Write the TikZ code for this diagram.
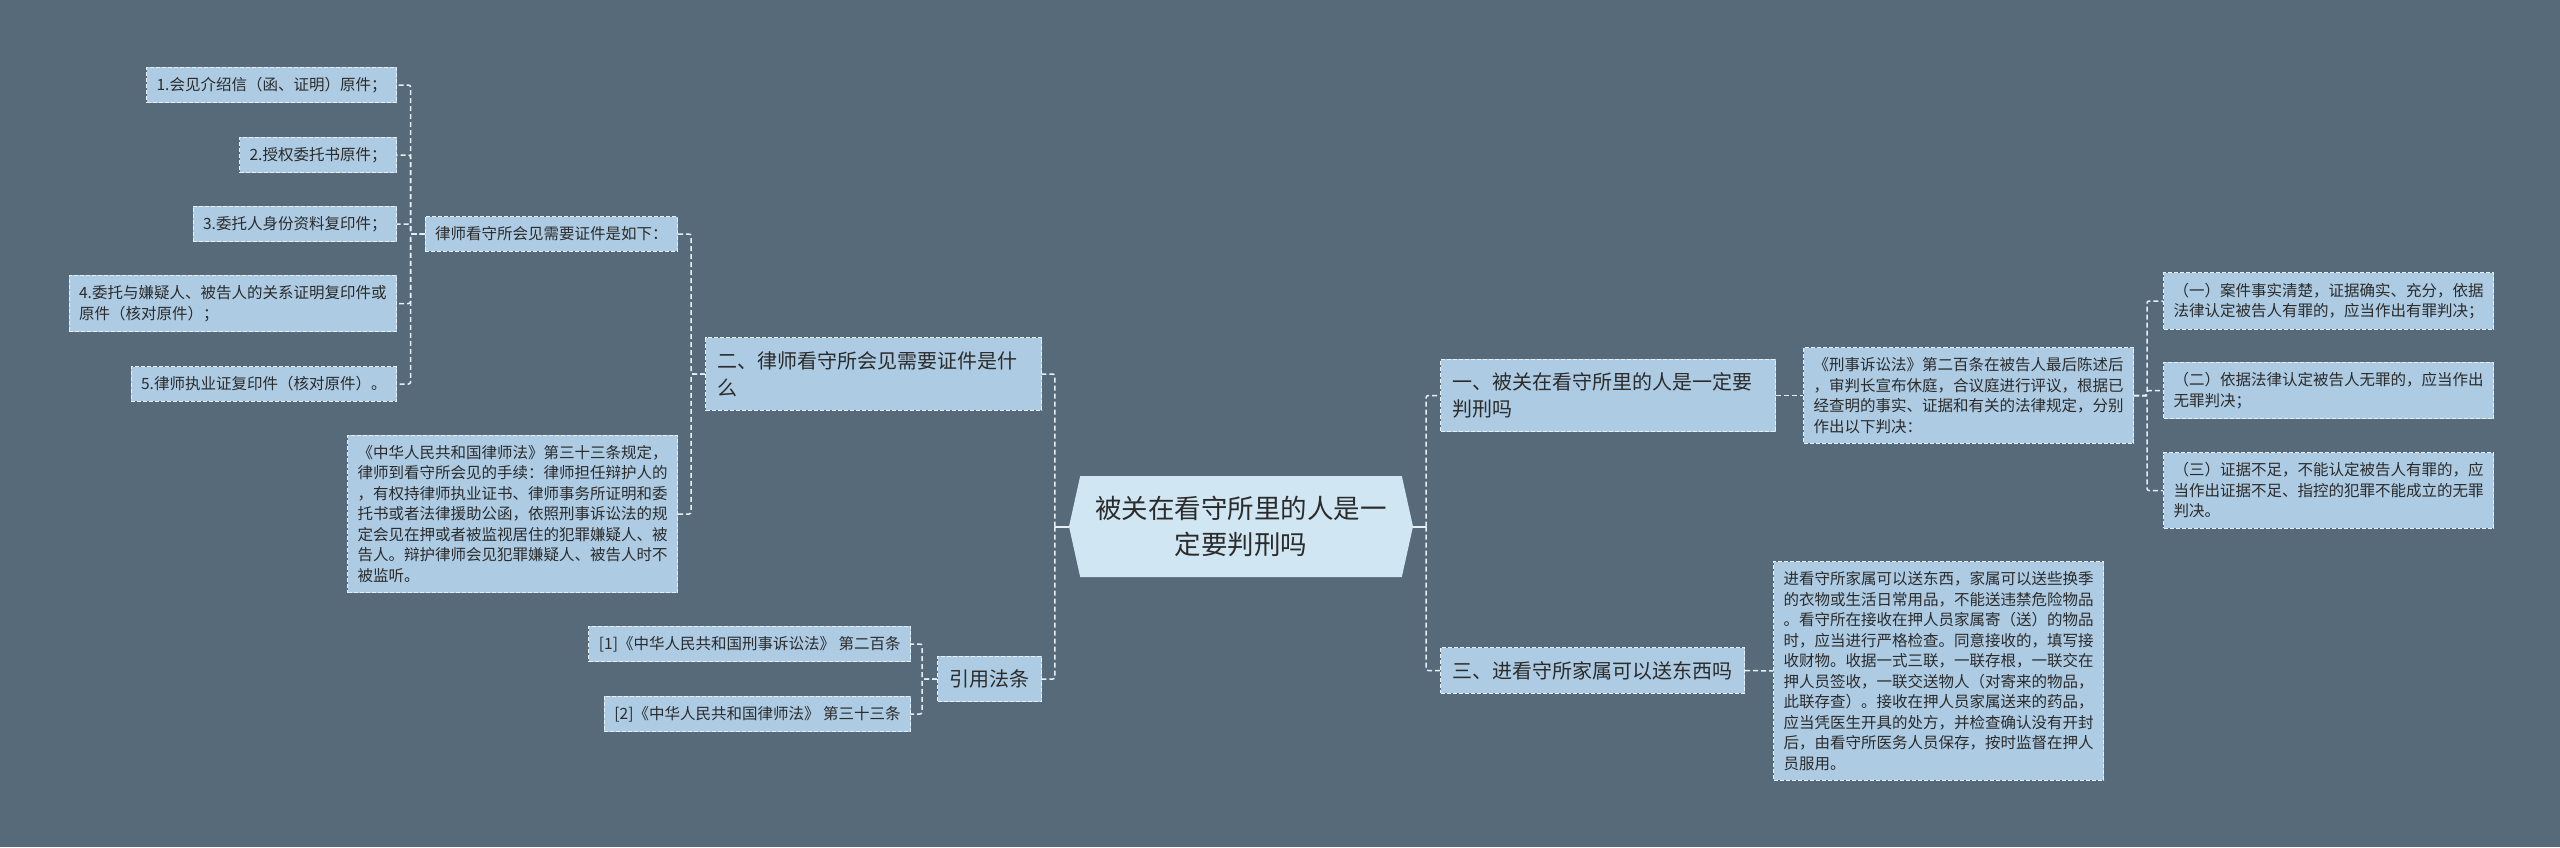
\documentclass[tikz,border=0pt]{standalone}
\usepackage{fontspec}
\setmainfont{Noto Sans CJK SC}
\usetikzlibrary{shapes.symbols}
\definecolor{bgslate}{HTML}{566A7A}
\definecolor{boxblue}{HTML}{ADCBE2}
\definecolor{rootblue}{HTML}{D0E6F3}
\definecolor{inkgray}{HTML}{2B2B2B}
\definecolor{dashwhite}{HTML}{E6F0F6}
\tikzset{
	box/.style={fill=boxblue, draw=dashwhite, line width=1pt, dash pattern=on 4pt off 2pt, text=inkgray, align=left},
	root/.style={shape=signal, signal to=west and east, signal pointer angle=155, fill=rootblue, text=inkgray, align=center, minimum width=344pt, minimum height=101pt, inner sep=0pt, font=\fontsize{26.5}{36}\selectfont},
	topic/.style={box, inner xsep=12pt, inner ysep=13.5pt, font=\fontsize{20}{27}\selectfont},
	leaf/.style={box, inner xsep=10pt, inner ysep=10pt, font=\fontsize{15.5}{20.5}\selectfont},
	link/.style={draw=dashwhite, line width=1.5pt, dash pattern=on 5pt off 3pt, rounded corners=2pt},
	rootlink/.style={draw=dashwhite, line width=2pt}
}

\begin{document}
\begin{tikzpicture}[x=1pt,y=-1pt]
	\fill[bgslate] (0,0) rectangle (2560,847);
	\useasboundingbox (0,0) rectangle (2560,847);

	\node[root] (root) at (1241,526.5) {被关在看守所里的人是一\\定要判刑吗};

	\node[topic, anchor=west, text width=311pt] (guilt) at (1440,395.5) {一、被关在看守所里的人是一定要\\判刑吗};
	\node[topic, anchor=west] (send) at (1440,670.5) {三、进看守所家属可以送东西吗};
	\node[topic, anchor=east, text width=312pt] (docs) at (1042,374) {二、律师看守所会见需要证件是什\\么};
	\node[topic, anchor=east] (laws) at (1042,679) {引用法条};

	\node[leaf, anchor=west] (art200) at (1803,395.5) {《刑事诉讼法》第二百条在被告人最后陈述后\\，审判长宣布休庭，合议庭进行评议，根据已\\经查明的事实、证据和有关的法律规定，分别\\作出以下判决：};
	\node[leaf, anchor=west] (v1) at (2163,301) {（一）案件事实清楚，证据确实、充分，依据\\法律认定被告人有罪的，应当作出有罪判决；};
	\node[leaf, anchor=west] (v2) at (2163,390.5) {（二）依据法律认定被告人无罪的，应当作出\\无罪判决；};
	\node[leaf, anchor=west] (v3) at (2163,490.5) {（三）证据不足，不能认定被告人有罪的，应\\当作出证据不足、指控的犯罪不能成立的无罪\\判决。};
	\node[leaf, anchor=west] (goods) at (1773,671) {进看守所家属可以送东西，家属可以送些换季\\的衣物或生活日常用品，不能送违禁危险物品\\。看守所在接收在押人员家属寄（送）的物品\\时，应当进行严格检查。同意接收的，填写接\\收财物。收据一式三联，一联存根，一联交在\\押人员签收，一联交送物人（对寄来的物品，\\此联存查）。接收在押人员家属送来的药品，\\应当凭医生开具的处方，并检查确认没有开封\\后，由看守所医务人员保存，按时监督在押人\\员服用。};

	\node[leaf, anchor=east] (need) at (678,234) {律师看守所会见需要证件是如下：};
	\node[leaf, anchor=east] (d1) at (397,85) {1.会见介绍信（函、证明）原件；};
	\node[leaf, anchor=east] (d2) at (397,155) {2.授权委托书原件；};
	\node[leaf, anchor=east] (d3) at (397,224) {3.委托人身份资料复印件；};
	\node[leaf, anchor=east] (d4) at (397,303.5) {4.委托与嫌疑人、被告人的关系证明复印件或\\原件（核对原件）；};
	\node[leaf, anchor=east] (d5) at (397,384) {5.律师执业证复印件（核对原件）。};
	\node[leaf, anchor=east] (art33) at (678,514) {《中华人民共和国律师法》第三十三条规定，\\律师到看守所会见的手续：律师担任辩护人的\\，有权持律师执业证书、律师事务所证明和委\\托书或者法律援助公函，依照刑事诉讼法的规\\定会见在押或者被监视居住的犯罪嫌疑人、被\\告人。辩护律师会见犯罪嫌疑人、被告人时不\\被监听。};
	\node[leaf, anchor=east] (ref1) at (911,644) {[1]《中华人民共和国刑事诉讼法》 第二百条};
	\node[leaf, anchor=east] (ref2) at (911,714) {[2]《中华人民共和国律师法》 第三十三条};

	\draw[rootlink] (root.west) -- ++(-14,0);
	\draw[rootlink] (root.east) -- ++(13,0);
	\draw[link] (root.west) ++(-14,0) |- (docs.east);
	\draw[link] (root.west) ++(-14,0) |- (laws.east);
	\draw[link] (root.east) ++(13,0) |- (guilt.west);
	\draw[link] (root.east) ++(13,0) |- (send.west);

	\draw[link] (guilt.east) -- (art200.west);
	\draw[link] (art200.east) -- ++(13,0) |- (v1.west);
	\draw[link] (art200.east) -- ++(13,0) |- (v2.west);
	\draw[link] (art200.east) -- ++(13,0) |- (v3.west);
	\draw[link] (send.east) -- (goods.west);

	\draw[link] (docs.west) -- ++(-14,0) |- (need.east);
	\draw[link] (docs.west) -- ++(-14,0) |- (art33.east);
	\draw[link] (need.west) -- ++(-14,0) |- (d1.east);
	\draw[link] (need.west) -- ++(-14,0) |- (d2.east);
	\draw[link] (need.west) -- ++(-14,0) |- (d3.east);
	\draw[link] (need.west) -- ++(-14,0) |- (d4.east);
	\draw[link] (need.west) -- ++(-14,0) |- (d5.east);
	\draw[link] (laws.west) -- ++(-15,0) |- (ref1.east);
	\draw[link] (laws.west) -- ++(-15,0) |- (ref2.east);
\end{tikzpicture}
\end{document}
